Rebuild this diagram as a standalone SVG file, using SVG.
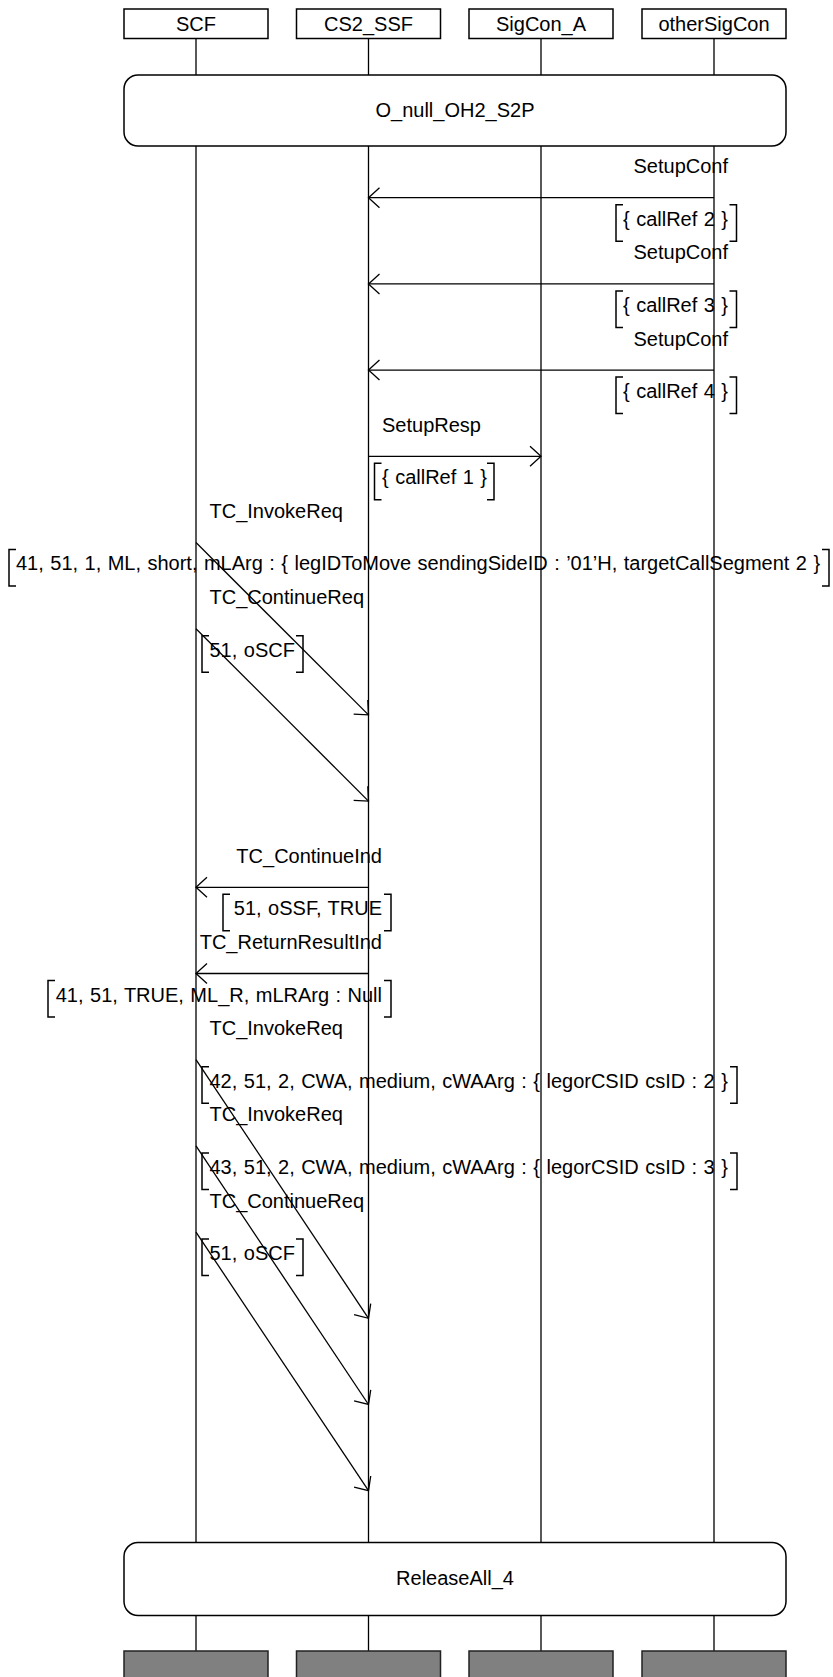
<svg xmlns="http://www.w3.org/2000/svg" width="833" height="1677" viewBox="0 0 833 1677">
<style>
text{font-family:"Liberation Sans",Arial,sans-serif;font-size:20px;fill:#000}
.p{word-spacing:0.9px}
.c{text-anchor:middle}
.e{text-anchor:end}
.box{fill:#fff;stroke:#000;stroke-width:1.5}
.end{fill:#808080;stroke:#222;stroke-width:1.5}
.ref{fill:#fff;stroke:#000;stroke-width:1.5}
.ll{stroke:#000;stroke-width:1.3;fill:none}
.msg{stroke:#000;stroke-width:1.3;fill:none;marker-end:url(#ah)}
.br{stroke:#000;stroke-width:1.5;fill:none}
</style>
<defs>
<marker id="ah" markerUnits="userSpaceOnUse" markerWidth="30" markerHeight="30" viewBox="-15 -15 30 30" refX="0" refY="0" orient="auto" overflow="visible">
<path d="M-11,-10 L0,0 L-11,10" fill="none" stroke="#000" stroke-width="1.3"/>
</marker>
</defs>
<g id="lifelines">
<path class="ll" d="M196,38.5V75M368.5,38.5V75M541,38.5V75M714,38.5V75"/>
<path class="ll" d="M196,146V1542.5M368.5,146V1542.5M541,146V1542.5M714,146V1542.5"/>
<path class="ll" d="M196,1615.5V1651M368.5,1615.5V1651M541,1615.5V1651M714,1615.5V1651"/>
</g>
<g id="SCF"><rect class="box" x="124" y="9" width="144" height="29.5"/><text class="c" x="196" y="30.8">SCF</text><rect class="end" x="124" y="1651" width="144" height="32"/></g>
<g id="CS2_SSF"><rect class="box" x="296.5" y="9" width="144" height="29.5"/><text class="c" x="368.5" y="30.8">CS2_SSF</text><rect class="end" x="296.5" y="1651" width="144" height="32"/></g>
<g id="SigCon_A"><rect class="box" x="469" y="9" width="144" height="29.5"/><text class="c" x="541" y="30.8">SigCon_A</text><rect class="end" x="469" y="1651" width="144" height="32"/></g>
<g id="otherSigCon"><rect class="box" x="642" y="9" width="144" height="29.5"/><text class="c" x="714" y="30.8">otherSigCon</text><rect class="end" x="642" y="1651" width="144" height="32"/></g>
<g id="O_null_OH2_S2P"><rect class="ref" x="124" y="75" width="662" height="71" rx="14" ry="14"/><text class="c" x="455" y="117">O_null_OH2_S2P</text></g>
<g id="ReleaseAll_4"><rect class="ref" x="124" y="1542.5" width="662" height="73" rx="14" ry="14"/><text class="c" x="455" y="1585">ReleaseAll_4</text></g>
<g id="connectors">
<line class="msg" x1="714" y1="197.7" x2="368.5" y2="197.7"/>
<text class="e" x="728" y="173.2">SetupConf</text>
<text class="e p" x="728" y="225.7">{ callRef 2 }</text>
<path class="br" d="M623,204.7H616V241.2H623M729.5,204.7H736.5V241.2H729.5"/>
<line class="msg" x1="714" y1="283.9" x2="368.5" y2="283.9"/>
<text class="e" x="728" y="259.4">SetupConf</text>
<text class="e p" x="728" y="311.9">{ callRef 3 }</text>
<path class="br" d="M623,290.9H616V327.4H623M729.5,290.9H736.5V327.4H729.5"/>
<line class="msg" x1="714" y1="370.1" x2="368.5" y2="370.1"/>
<text class="e" x="728" y="345.6">SetupConf</text>
<text class="e p" x="728" y="398.1">{ callRef 4 }</text>
<path class="br" d="M623,377.1H616V413.6H623M729.5,377.1H736.5V413.6H729.5"/>
<line class="msg" x1="368.5" y1="456.3" x2="541" y2="456.3"/>
<text x="382" y="431.8">SetupResp</text>
<text class="p" x="382" y="484.3">{ callRef 1 }</text>
<path class="br" d="M381.5,463.3H374.5V499.8H381.5M487,463.3H494V499.8H487"/>
<line class="msg" x1="196" y1="542.5" x2="368.5" y2="714.9"/>
<text x="209.5" y="518">TC_InvokeReq</text>
<text class="p" x="16" y="570">41, 51, 1, ML, short, mLArg : { legIDToMove sendingSideID : ’01’H, targetCallSegment 2 }</text>
<path class="br" d="M16,549.5H9V586H16M822,549.5H829V586H822"/>
<line class="msg" x1="196" y1="628.7" x2="368.5" y2="801.1"/>
<text x="209.5" y="604.2">TC_ContinueReq</text>
<text class="p" x="209.5" y="656.7">51, oSCF</text>
<path class="br" d="M209,635.7H202V672.2H209M296,635.7H303V672.2H296"/>
<line class="msg" x1="368.5" y1="887.3" x2="196" y2="887.3"/>
<text class="e" x="382" y="862.8">TC_ContinueInd</text>
<text class="e p" x="382" y="915.3">51, oSSF, TRUE</text>
<path class="br" d="M230,894.3H223V930.8H230M384,894.3H391V930.8H384"/>
<line class="msg" x1="368.5" y1="973.5" x2="196" y2="973.5"/>
<text class="e" x="382" y="949">TC_ReturnResultInd</text>
<text class="e p" x="382" y="1001.5">41, 51, TRUE, ML_R, mLRArg : Null</text>
<path class="br" d="M55,980.5H48V1017H55M384,980.5H391V1017H384"/>
<line class="msg" x1="196" y1="1059.7" x2="368.5" y2="1318.3"/>
<text x="209.5" y="1035.2">TC_InvokeReq</text>
<text class="p" x="209.5" y="1087.7">42, 51, 2, CWA, medium, cWAArg : { legorCSID csID : 2 }</text>
<path class="br" d="M209,1066.7H202V1103.2H209M730,1066.7H737V1103.2H730"/>
<line class="msg" x1="196" y1="1145.9" x2="368.5" y2="1404.5"/>
<text x="209.5" y="1121.4">TC_InvokeReq</text>
<text class="p" x="209.5" y="1173.9">43, 51, 2, CWA, medium, cWAArg : { legorCSID csID : 3 }</text>
<path class="br" d="M209,1152.9H202V1189.4H209M730,1152.9H737V1189.4H730"/>
<line class="msg" x1="196" y1="1232.1" x2="368.5" y2="1490.7"/>
<text x="209.5" y="1207.6">TC_ContinueReq</text>
<text class="p" x="209.5" y="1260.1">51, oSCF</text>
<path class="br" d="M209,1239.1H202V1275.6H209M296,1239.1H303V1275.6H296"/>
</g>
</svg>
